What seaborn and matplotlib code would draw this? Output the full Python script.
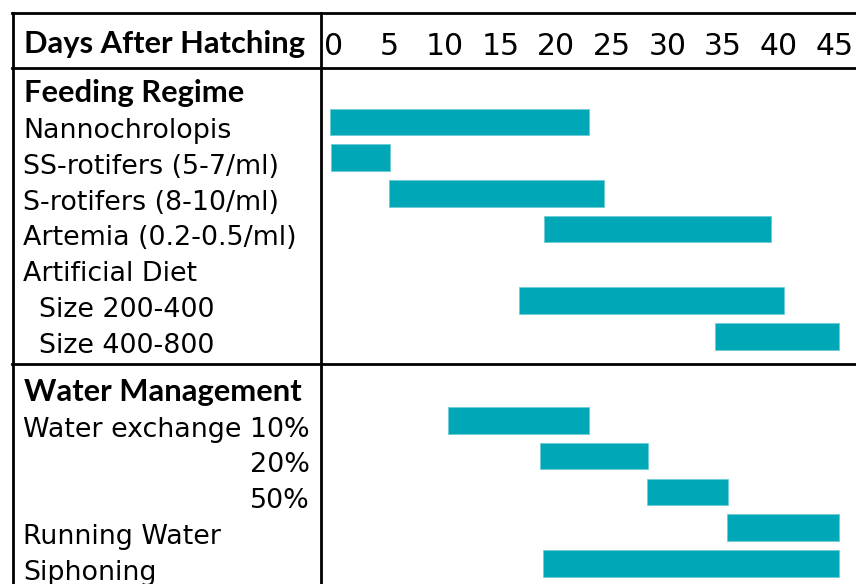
import numpy as np
import pandas as pd
import matplotlib
matplotlib.use("Agg")
import matplotlib.pyplot as plt
import seaborn as sns
from matplotlib.transforms import Affine2D, blended_transform_factory, ScaledTranslation
from matplotlib.lines import Line2D

# ---------------- data ----------------
header_title = "Days After Hatching"
tick_days = [0, 5, 10, 15, 20, 25, 30, 35, 40, 45]
section_titles = ["Feeding Regime", "Water Management"]

feeding_items = ["Nannochrolopis", "SS-rotifers (5-7/ml)", "S-rotifers (8-10/ml)",
                 "Artemia (0.2-0.5/ml)", "Artificial Diet", "Size 200-400", "Size 400-800"]
feeding_start = [0.0, 0.1, 5.3, 19.3, np.nan, 17.0, 34.6]
feeding_end = [23.3, 5.4, 24.7, 39.7, np.nan, 40.8, 45.8]

water_items = ["Water exchange 10%", "20%", "50%", "Running Water", "Siphoning"]
water_start = [10.6, 18.9, 28.5, 35.7, 19.2]
water_end = [23.3, 28.6, 35.8, 45.8, 45.8]

# ---------------- layout ----------------
W, H = 856, 584
TEAL = "#00A7B6"
ROW_PX0, ROW_H = 121.9, 35.75          # pixel centre of first row, row pitch
feed_rows = list(np.arange(len(feeding_items), dtype=float))
water_rows = list(8.35 + np.arange(len(water_items), dtype=float))
indent_items = {"Size 200-400", "Size 400-800"}

sns.set_theme(style="white")
plt.rcParams["font.family"] = ["DejaVu Sans"]

df = pd.DataFrame({
    "task": feeding_items + water_items,
    "row": feed_rows + water_rows,
    "start": feeding_start + water_start,
    "end": feeding_end + water_end,
}).dropna().reset_index(drop=True)
df["span"] = df["end"] - df["start"]

fig = plt.figure(figsize=(W / 100, H / 100), dpi=100)
fig.patch.set_facecolor("white")
ax = fig.add_axes([0, 0, 1, 1])

sns.barplot(data=df, x="span", y="row", orient="y", native_scale=True,
            width=0.74, color=TEAL, saturation=1, errorbar=None,
            edgecolor="#6cccd4", linewidth=0.6, ax=ax)

# move each bar so it starts at its start day
rows_arr = df["row"].to_numpy()
for p in ax.patches:
    yc = p.get_y() + p.get_height() / 2
    i = int(np.argmin(np.abs(rows_arr - yc)))
    p.set_x(df.loc[i, "start"])
    p.set_width(df.loc[i, "span"])

# axis scale: day d -> pixel 329.6 + 11.128 d ; row r -> pixel 121.9 + 35.75 r
ax.set_xlim((0 - 329.6) / 11.128, (W - 329.6) / 11.128)
ax.set_ylim((H - ROW_PX0) / ROW_H, (0 - ROW_PX0) / ROW_H)
ax.set_axis_off()

# pixel transform (x right, y down from top-left)
T = Affine2D().scale(1 / W, -1 / H).translate(0, 1) + fig.transFigure
TX = blended_transform_factory(ax.transData, T) + ScaledTranslation(4 / 100, 0, fig.dpi_scale_trans)


def row_px(r):
    return ROW_PX0 + ROW_H * r


BASE_OFF = 16.3
REG = dict(family=["DejaVu Sans"], fontsize=19.4, color="black", va="baseline")
BOLD = dict(family=["Lato", "DejaVu Sans"], fontsize=22.2, fontweight="bold",
            color="black", va="baseline")

# header row
fig.text(24, 53.3, header_title, transform=T, ha="left", **BOLD)
for d in tick_days:
    fig.text(d, 54.7, str(d), transform=TX, ha="center",
             family=["DejaVu Sans"], fontsize=21.5, color="black", va="baseline")

# section titles
fig.text(24, row_px(-1) + BASE_OFF, section_titles[0], transform=T, ha="left", **BOLD)
fig.text(24, row_px(7.35) + BASE_OFF, section_titles[1], transform=T, ha="left", **BOLD)

# feeding labels
for lab, r in zip(feeding_items, feed_rows):
    x = 39 if lab in indent_items else 23
    fig.text(x, row_px(r) + BASE_OFF, lab, transform=T, ha="left", **REG)

# water labels
renderer = fig.canvas.get_renderer()
t0 = fig.text(23, row_px(water_rows[0]) + BASE_OFF, water_items[0], transform=T,
              ha="left", **REG)
right_x = t0.get_window_extent(renderer).x1
for lab, r in zip(water_items[1:3], water_rows[1:3]):
    fig.text(right_x, row_px(r) + BASE_OFF, lab, transform=T, ha="right", **REG)
for lab, r in zip(water_items[3:], water_rows[3:]):
    fig.text(23, row_px(r) + BASE_OFF, lab, transform=T, ha="left", **REG)

# table lines
LW = 2.0


def hline(y, x0=12, x1=W):
    fig.add_artist(Line2D([x0, x1], [y, y], transform=T, color="black", lw=LW,
                          solid_capstyle="projecting"))


def vline(x, y0=13, y1=H):
    fig.add_artist(Line2D([x, x], [y0, y1], transform=T, color="black", lw=LW,
                          solid_capstyle="projecting"))


hline(13)
hline(67.5)
hline(364.3)
vline(12.8)
vline(321.3)

fig.savefig("out.png", dpi=100, facecolor="white")
